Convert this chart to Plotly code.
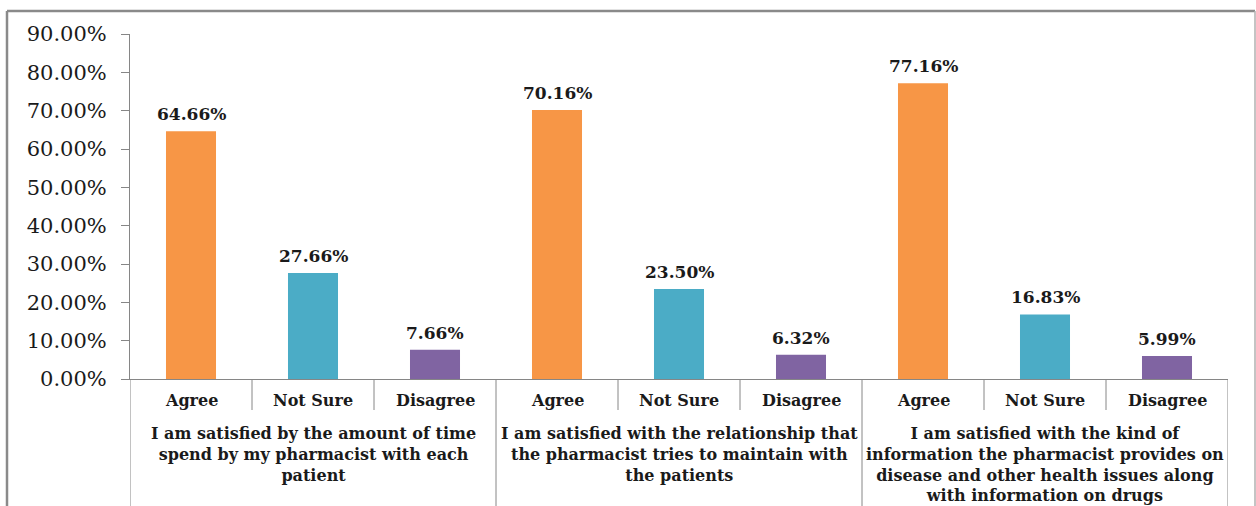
import plotly.graph_objects as go

# Survey statements (top-level groups) and response options
groups = [
    "I am satisfied by the amount of time<br>spend by my pharmacist with each<br>patient",
    "I am satisfied with the relationship that<br>the pharmacist tries to maintain with<br>the patients",
    "I am satisfied with the kind of<br>information the pharmacist provides on<br>disease and other health issues along<br>with information on drugs",
]
responses = ["Agree", "Not Sure", "Disagree"]

# Percentage of respondents per statement
agree = [64.66, 70.16, 77.16]
not_sure = [27.66, 23.50, 16.83]
disagree = [7.66, 6.32, 5.99]

colors = {"Agree": "#F79646", "Not Sure": "#4BACC6", "Disagree": "#8064A2"}
series = {"Agree": agree, "Not Sure": not_sure, "Disagree": disagree}

W, H = 1256, 506
ML, MR, MT, MB = 130, 28, 34, 127
PW, PH = W - ML - MR, H - MT - MB

AXIS = "#868686"
TEXT = "#1a1a1a"
SERIF = "DejaVu Serif"

# One unique category per bar: statement index + response
cats = [f"{gi}|{r}" for gi in range(len(groups)) for r in responses]

fig = go.Figure()
for ri, r in enumerate(responses):
    xs = [f"{gi}|{r}" for gi in range(len(groups))]
    fig.add_trace(go.Bar(
        x=xs, y=series[r], name=r, width=0.41,
        marker=dict(color=colors[r], line=dict(width=0)),
        showlegend=False,
    ))

annotations = []
# Value labels above bars
for r in responses:
    for gi, v in enumerate(series[r]):
        annotations.append(dict(
            x=f"{gi}|{r}", y=v, xref="x", yref="y", text=f"{v:.2f}%",
            showarrow=False, yanchor="bottom", yshift=5,
            font=dict(family=SERIF, size=17, color=TEXT, weight="bold"),
        ))
# Response labels under the axis
for c in cats:
    annotations.append(dict(
        x=c, y=0, xref="x", yref="paper", text=c.split("|")[1],
        showarrow=False, yanchor="top", yshift=-10,
        font=dict(family=SERIF, size=16, color=TEXT, weight="bold"),
    ))
# Statement labels under each group
for gi, g in enumerate(groups):
    annotations.append(dict(
        x=f"{gi}|Not Sure", y=0, xref="x", yref="paper", text=g,
        showarrow=False, yanchor="top", yshift=-43, align="center",
        font=dict(family=SERIF, size=16, color=TEXT, weight="bold"),
    ))

shapes = []
# Divider lines between categories (short) and between statements (long)
n = len(cats)
for i in range(n + 1):
    long_line = i % len(responses) == 0
    shapes.append(dict(
        type="line", xref="x", yref="paper", x0=i - 0.5, x1=i - 0.5,
        y0=0, y1=(-(H - MT - PH) - 5) / PH if long_line else -31 / PH,
        line=dict(color=AXIS, width=1),
    ))

# Outer chart frame
def px_to_paper_x(px):
    return (px - ML) / PW

def px_to_paper_y(py):
    return (MT + PH - py) / PH

fx0, fx1 = px_to_paper_x(7), px_to_paper_x(1255)
fy0, fy1 = px_to_paper_y(515), px_to_paper_y(11)
shapes += [
    dict(type="line", xref="paper", yref="paper", x0=fx0, x1=fx1, y0=fy1, y1=fy1,
         line=dict(color="#8a8a8a", width=2.5)),
    dict(type="line", xref="paper", yref="paper", x0=fx0, x1=fx0, y0=fy0, y1=fy1,
         line=dict(color="#8a8a8a", width=2.5)),
    dict(type="line", xref="paper", yref="paper", x0=fx1, x1=fx1, y0=fy0, y1=fy1,
         line=dict(color="#b0b0b0", width=1.5)),
]

fig.update_layout(
    width=W, height=H,
    margin=dict(l=ML, r=MR, t=MT, b=MB),
    paper_bgcolor="white", plot_bgcolor="white",
    barmode="overlay",
    annotations=annotations, shapes=shapes,
    xaxis=dict(
        type="category", categoryorder="array", categoryarray=cats,
        range=[-0.5, n - 0.5], showticklabels=False, ticks="",
        showline=True, linecolor=AXIS, linewidth=1, showgrid=False,
        zeroline=False, automargin=False, fixedrange=True,
    ),
    yaxis=dict(
        range=[0, 90], dtick=10, tickformat=".2f", ticksuffix="%",
        showline=True, linecolor=AXIS, linewidth=1, showgrid=False,
        zeroline=False, ticks="outside", ticklen=8, tickcolor=AXIS,
        tickfont=dict(family=SERIF, size=21, color=TEXT),
        ticklabelstandoff=10, automargin=False, fixedrange=True,
    ),
)

fig.write_html("out.html")
